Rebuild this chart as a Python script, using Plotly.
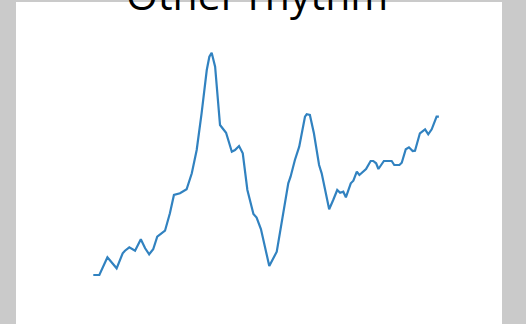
import plotly.graph_objects as go

# Weekly index and rate values for the "Other rhythm" series
weeks = [0.0, 2.1, 4.9, 8.1, 10.2, 11.0, 12.5, 14.5, 16.5, 18.0, 19.4, 20.8, 22.2,
         24.9, 26.6, 28.0, 30.1, 32.4, 34.2, 35.9, 37.6, 39.4, 40.3, 41.1, 42.3,
         44.0, 46.1, 46.9, 48.1, 49.2, 50.6, 51.9, 53.5, 55.6, 56.7, 58.2, 59.6,
         61.1, 63.7, 65.4, 67.7, 68.5, 70.0, 71.5, 73.5, 74.1, 75.2, 76.6, 78.4,
         79.3, 80.5, 81.9, 83.3, 84.7, 85.7, 86.8, 87.7, 89.4, 90.3, 91.5, 92.4,
         93.8, 94.7, 96.3, 97.2, 98.2, 99.0, 100.9, 103.6, 104.5, 106.3, 107.1,
         108.5, 109.6, 110.9, 111.7, 113.4, 115.2, 116.3, 117.5, 119.2, 120.0]
rates = [0.5, 0.5, 2.27, 1.17, 2.67, 2.93, 3.27, 2.93, 4.07, 3.17, 2.57, 3.07, 4.33,
         4.93, 6.67, 8.5, 8.67, 9.07, 10.67, 13.0, 16.67, 21.0, 22.33, 22.73, 21.33,
         15.5, 14.73, 14.0, 12.83, 13.0, 13.4, 12.67, 9.0, 6.6, 6.25, 5.1, 3.33,
         1.4, 2.83, 5.67, 9.67, 10.33, 12.0, 13.33, 16.33, 16.57, 16.5, 14.67, 11.5,
         10.67, 8.83, 7.07, 8.0, 9.0, 8.73, 8.83, 8.27, 9.67, 9.93, 10.83, 10.5,
         10.9, 11.1, 11.9, 11.9, 11.67, 11.1, 11.9, 11.9, 11.5, 11.5, 11.73,
         13.07, 13.27, 12.9, 12.93, 14.67, 15.07, 14.57, 15.07, 16.33, 16.33]

title_text = "Other rhythm"

fig = go.Figure()
fig.add_trace(go.Scatter(
    x=weeks, y=rates, mode="lines",
    line=dict(color="#3182c0", width=2.2),
    hoverinfo="skip",
))

fig.add_annotation(
    text=title_text, xref="paper", yref="paper",
    x=(257 - 16) / 486, y=1.025, xanchor="center", yanchor="middle",
    showarrow=False, font=dict(family="Open Sans", size=41, color="#000000"),
)

fig.update_layout(
    width=526, height=324,
    margin=dict(l=16, r=24, t=2, b=0),
    paper_bgcolor="#cacaca",
    plot_bgcolor="#ffffff",
    showlegend=False,
    xaxis=dict(visible=False, range=[-26.84, 141.91], fixedrange=True),
    yaxis=dict(visible=False, range=[-4.4, 27.8], fixedrange=True),
)

fig.write_html("out.html", config={"displayModeBar": False})
